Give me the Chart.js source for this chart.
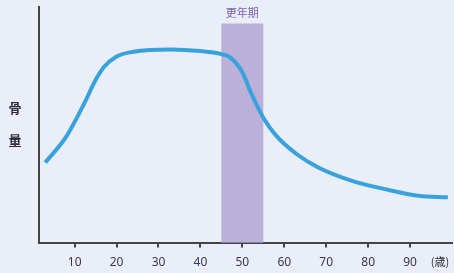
<!DOCTYPE html>
<html>
<head>
<meta charset="utf-8">
<script src="https://cdn.jsdelivr.net/npm/chart.js@4"></script>
<style>
  html, body { margin: 0; padding: 0; background: #e9eef8; }
  #wrap { width: 454px; height: 273px; }
</style>
</head>
<body>
<div id="wrap"><canvas id="boneChart" width="454" height="273"></canvas></div>
<script>
// Data
const ages = [3, 8, 12, 15, 17, 20, 24, 33, 40, 45, 47, 50, 52, 55, 58, 63, 68, 76, 84, 92, 99];
const boneMass = [34, 45, 58, 69, 74.5, 79, 81, 82, 81.3, 80, 78.7, 72.3, 63.8, 53, 45.5, 37.5, 32, 26.3, 22.7, 19.9, 19.2];
const ageTicks = [10, 20, 30, 40, 50, 60, 70, 80, 90];
const menopause = [45, 55];
const menopauseLabel = '更年期';
const yLabel = ['骨', '量'];
const unitLabel = '(歳)';

// menopause band + text labels
const extras = {
  id: 'extras',
  beforeDatasetsDraw(chart) {
    const { ctx, scales: { x, y } } = chart;
    const x0 = x.getPixelForValue(menopause[0]);
    const x1 = x.getPixelForValue(menopause[1]);
    const top = y.getPixelForValue(93);
    ctx.save();
    ctx.fillStyle = '#bab0d8';
    ctx.fillRect(x0, top, x1 - x0, y.bottom - top);
    ctx.fillStyle = '#7a62aa';
    ctx.font = '11px "Noto Sans CJK JP"';
    ctx.textAlign = 'center';
    ctx.textBaseline = 'middle';
    ctx.fillText(menopauseLabel, (x0 + x1) / 2, 13);
    ctx.restore();
  },
  afterDraw(chart) {
    const { ctx } = chart;
    ctx.save();
    ctx.fillStyle = '#2e2a3a';
    ctx.font = 'bold 13px "Noto Sans CJK JP"';
    ctx.textAlign = 'center';
    ctx.textBaseline = 'middle';
    ctx.fillText(yLabel[0], 15, 108);
    ctx.fillText(yLabel[1], 15, 140);
    ctx.font = '11px "Noto Sans CJK JP"';
    ctx.fillText(unitLabel, 440, 262);
    ctx.restore();
  }
};

new Chart(document.getElementById('boneChart').getContext('2d'), {
  type: 'line',
  data: {
    datasets: [{
      data: ages.map((a, i) => ({ x: a, y: boneMass[i] })),
      borderColor: '#38a2dc',
      borderWidth: 4,
      pointRadius: 0,
      cubicInterpolationMode: 'monotone',
      fill: false
    }]
  },
  options: {
    responsive: false,
    animation: false,
    layout: { padding: { left: 31, right: 2, top: 7, bottom: -5 } },
    scales: {
      x: {
        type: 'linear',
        min: 1.5,
        max: 100,
        afterBuildTicks: s => { s.ticks = ageTicks.map(v => ({ value: v })); },
        grid: { display: true, drawOnChartArea: false, drawTicks: true, tickLength: 5, color: '#444', lineWidth: 2 },
        border: { display: true, color: '#444', width: 2 },
        ticks: { color: '#3a3550', font: { family: 'Noto Sans', size: 12 }, padding: 8, maxRotation: 0 }
      },
      y: {
        min: 0,
        max: 100,
        grid: { display: false },
        border: { display: true, color: '#444', width: 2 },
        ticks: { display: false }
      }
    },
    plugins: {
      legend: { display: false },
      tooltip: { enabled: false }
    }
  },
  plugins: [extras]
});
</script>
</body>
</html>
